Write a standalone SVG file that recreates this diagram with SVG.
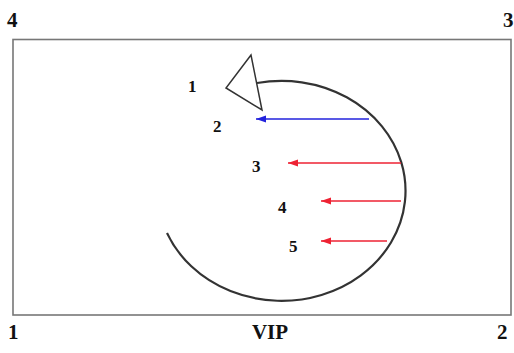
<svg xmlns="http://www.w3.org/2000/svg" width="514" height="353" viewBox="0 0 514 353">
<defs>
<style>
.lbl{font-family:"Liberation Serif","Times New Roman",serif;font-weight:bold;fill:#111;}
.big{font-size:21px;}
.sm{font-size:17px;}
.arc{fill:none;stroke:#333;stroke-width:2.2;}
.blue{stroke:#2222dd;stroke-width:1.3;fill:none;}
.red{stroke:#ee2233;stroke-width:1.3;fill:none;}
</style>
<marker id="hb" markerWidth="10" markerHeight="8" refX="0" refY="4" orient="auto" markerUnits="userSpaceOnUse"><path d="M0,4 L10,0.5 L10,7.5 Z" fill="#2222dd"/></marker>
<marker id="hr" markerWidth="10" markerHeight="8" refX="0" refY="4" orient="auto" markerUnits="userSpaceOnUse"><path d="M0,4 L10,0.5 L10,7.5 Z" fill="#ee2233"/></marker>
</defs>
<rect width="514" height="353" fill="#fff"/>
<g id="frame"><rect x="13" y="39.5" width="498" height="275.5" fill="none" stroke="#777" stroke-width="1.6"/></g>
<g id="corners">
<text class="lbl big" x="7" y="27">4</text>
<text class="lbl big" x="503" y="27">3</text>
<text class="lbl big" x="8" y="339">1</text>
<text class="lbl big" x="497" y="339">2</text>
<text class="lbl big" x="270" y="339" text-anchor="middle">VIP</text>
</g>
<g id="spiral">
<path class="arc" d="M167,233 A124,110 0 1 0 257,83"/>
<polygon points="251,55 226,88 262,110" fill="#fff" stroke="#333" stroke-width="1.5"/>
</g>
<g id="connectors">
<line class="blue" x1="256" y1="119" x2="369" y2="119" marker-start="url(#hb)"/>
<line class="red" x1="288" y1="163" x2="401" y2="163" marker-start="url(#hr)"/>
<line class="red" x1="321" y1="201" x2="401" y2="201" marker-start="url(#hr)"/>
<line class="red" x1="321" y1="241" x2="387" y2="241" marker-start="url(#hr)"/>
</g>
<g id="labels">
<text class="lbl sm" x="188" y="92">1</text>
<text class="lbl sm" x="213" y="132">2</text>
<text class="lbl sm" x="252" y="172">3</text>
<text class="lbl sm" x="278" y="213">4</text>
<text class="lbl sm" x="289" y="252">5</text>
</g>
</svg>
